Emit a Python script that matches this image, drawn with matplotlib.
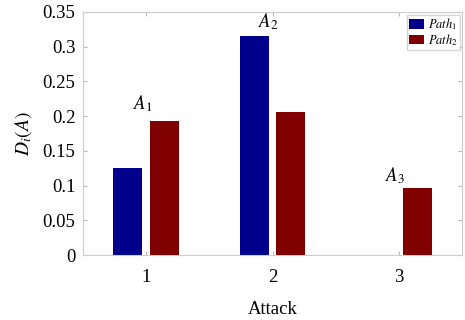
import matplotlib
matplotlib.use("Agg")
import matplotlib.pyplot as plt
import numpy as np

plt.rcParams['font.family'] = ['Liberation Serif', 'DejaVu Serif']
plt.rcParams['mathtext.fontset'] = 'stix'

attacks = [1, 2, 3]
tick_labels = ['1', '2', '3']
path1 = [0.125, 0.315, 0.0]
path2 = [0.193, 0.206, 0.096]
series_names = ['$Path_1$', '$Path_2$']
annot_labels = ['$A_1$', '$A_2$', '$A_3$']
annot_y = [0.218, 0.336, 0.114]

fig = plt.figure(figsize=(4.65, 3.2), dpi=100)
ax = fig.add_axes([83/465, 1-255/320, (462-83)/465, (255-12)/320])

x = np.array(attacks, dtype=float)
w = 0.228
off = 0.145
ax.bar(x - off, path1, width=w, color='#00008c', label=series_names[0])
ax.bar(x + off, path2, width=w, color='#800000', label=series_names[1])

for xi, lab, yy in zip(x, annot_labels, annot_y):
    ax.text(xi - 0.03, yy, lab, ha='center', va='center', fontsize=13.5)

ax.set_xlim(0.5, 3.5)
ax.set_ylim(0, 0.35)
ax.set_xticks(attacks)
ax.set_xticklabels(tick_labels)
ax.set_yticks(np.arange(0, 0.351, 0.05))
ax.set_yticklabels(['0', '0.05', '0.1', '0.15', '0.2', '0.25', '0.3', '0.35'])
ax.tick_params(direction='in', length=3, top=True, right=True, labelsize=13.5,
               color='#bbbbbb')
ax.tick_params(axis='x', pad=10)
ax.tick_params(axis='y', pad=5.5)
for s in ax.spines.values():
    s.set_color('#cccccc')
ax.set_xlabel('Attack', fontsize=13.5, labelpad=11)
ax.set_ylabel('$D_i(A)$', fontsize=14, labelpad=6)

leg = ax.legend(loc='upper right', fontsize=9, frameon=True, fancybox=False,
                edgecolor='#cccccc', handlelength=1.2, handleheight=0.75,
                handletextpad=0.3, labelspacing=0.0, borderpad=0.15,
                borderaxespad=0.2)

fig.savefig('out.png', dpi=100)
